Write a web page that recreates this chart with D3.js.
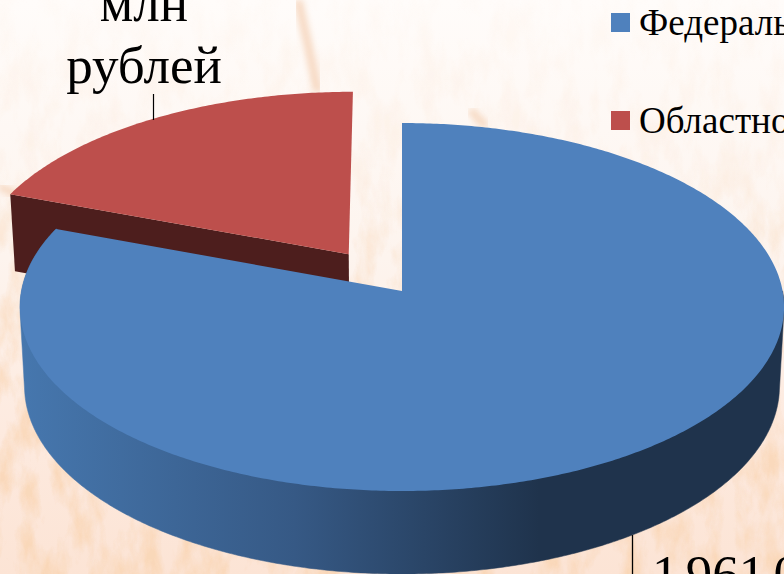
<!DOCTYPE html>
<html lang="ru"><head><meta charset="utf-8">
<style>html,body{margin:0;padding:0;background:#fff}svg{display:block}</style>
<script src="https://cdn.jsdelivr.net/npm/d3@7/dist/d3.min.js"></script>
</head><body><svg id="c" width="784" height="574"></svg>
<script>
// Data
const categories = ["Федеральный бюджет", "Областной бюджет"];
const values = [1961.0, 469.0];
const topColors = ["#4f81bd", "#bd4f4c"];
const labelLines = [["млн", "рублей"], ["1 961,0"]];

const W = 784, H = 574;
const svg = d3.select("#c").attr("viewBox", [0, 0, W, H]);
const defs = svg.append("defs");

// Background: pale wheat-coloured paper
const bg = defs.append("linearGradient").attr("id", "bg").attr("x1", 0).attr("y1", 0).attr("x2", 0).attr("y2", 1);
[[0, "#fffcfa"], [0.45, "#fdf4ee"], [0.75, "#fdeadf"], [1, "#fce4d5"]].forEach(([o, c]) => bg.append("stop").attr("offset", o).attr("stop-color", c));
svg.append("rect").attr("width", W).attr("height", H).attr("fill", "url(#bg)");
const tex = defs.append("filter").attr("id", "tex").attr("x", 0).attr("y", 0).attr("width", 1).attr("height", 1);
tex.append("feTurbulence").attr("type", "fractalNoise").attr("baseFrequency", "0.05 0.02").attr("numOctaves", 5).attr("seed", 11);
tex.append("feColorMatrix").attr("values", "0 0 0 0 0.95  0 0 0 0 0.68  0 0 0 0 0.48  2.6 0 0 0 -1.05");
const fade = defs.append("linearGradient").attr("id", "fade").attr("x1", 0).attr("y1", 0).attr("x2", 0).attr("y2", 1);
[[0, 0.05], [0.3, 0.2], [0.6, 0.8], [1, 1]].forEach(([o, a]) => fade.append("stop").attr("offset", o).attr("stop-color", "#fff").attr("stop-opacity", a));
defs.append("mask").attr("id", "fm").append("rect").attr("width", W).attr("height", H).attr("fill", "url(#fade)");
svg.append("g").attr("mask", "url(#fm)").append("rect").attr("width", W).attr("height", H).attr("filter", "url(#tex)");
// Faint wheat stalks behind the top of the chart
const soft = defs.append("filter").attr("id", "soft"); soft.append("feGaussianBlur").attr("stdDeviation", 3);
[["M298,0 L308,45 L318,92", 9], ["M0,186 L18,196", 7], ["M470,110 L486,126", 7]].forEach(([p, w]) =>
  svg.append("path").attr("d", p).attr("fill", "none").attr("stroke", "#f3c9a9").attr("stroke-width", w).attr("opacity", .65).attr("filter", "url(#soft)"));

// Perspective projection of the pie plane onto the page
const cx = 402, cy = 291, A = 380.6, B = 182.6, k = 0.087;
const explode = 0.25;          // pull-out of the second slice, in radii
const floorDrop = 79, floorX = 0.988, floorY = 1.02;

function project(u, t) {
  const w = 1 + k * t;
  return [cx + A * u / w, cy - B * t / w];
}
function lower([x, y]) {
  return [cx + (x - cx) * floorX, cy + floorDrop + (y - cy) * floorY];
}
const pie = d3.pie().sort(null).startAngle(0).endAngle(2 * Math.PI);
const arcs = pie(values);

function rim(d, off, a0 = d.startAngle, a1 = d.endAngle) {
  const n = Math.max(2, Math.ceil((a1 - a0) / 0.01));
  return d3.range(n + 1).map(i => {
    const a = a0 + (a1 - a0) * i / n;
    return project(off[0] + Math.sin(a), off[1] + Math.cos(a));
  });
}
const mid = d => (d.startAngle + d.endAngle) / 2;
const line = d3.line().curve(d3.curveLinearClosed);

// Side wall shade
const wall = defs.append("linearGradient").attr("id", "wall").attr("gradientUnits", "userSpaceOnUse")
  .attr("x1", 20).attr("x2", 784).attr("y1", 0).attr("y2", 0);
[[0, "#4677ae"], [0.36, "#365985"], [0.68, "#1f334c"], [1, "#1f334c"]].forEach(([o, c]) => wall.append("stop").attr("offset", o).attr("stop-color", c));

const [fed, obl] = arcs;
const oblOff = [explode * Math.sin(mid(obl)), explode * Math.cos(mid(obl))];

// Second slice: cut face, then top
const oblApex = project(oblOff[0], oblOff[1]);
const oblRim = rim(obl, oblOff);
svg.append("path").attr("fill", "#4d1e1d")
  .attr("d", line([oblRim[0], oblApex, lower(oblApex), lower(oblRim[0])]));
svg.append("path").attr("fill", topColors[1]).attr("d", line([oblApex, ...oblRim]));

// First slice: wall (each half as a hull so the silhouette is tangent), then top
const fedApex = project(0, 0);
[[Math.PI / 2, Math.PI], [Math.PI, fed.endAngle]].forEach(([a0, a1]) => {
  const r = rim(fed, [0, 0], a0, a1);
  svg.append("path").attr("fill", "url(#wall)").attr("stroke", "url(#wall)").attr("stroke-width", .5)
    .attr("d", line(d3.polygonHull([...r, ...r.map(lower)])));
});
svg.append("path").attr("fill", topColors[0]).attr("d", line([fedApex, ...rim(fed, [0, 0])]));

// Leader lines
svg.append("line").attr("x1", 153.5).attr("x2", 153.5).attr("y1", 94).attr("y2", 120).attr("stroke", "#000").attr("stroke-width", 1.2);
svg.append("line").attr("x1", 632.5).attr("x2", 632.5).attr("y1", 535).attr("y2", 574).attr("stroke", "#000").attr("stroke-width", 1.3);

// Data labels
const serif = "'Liberation Serif','Times New Roman',serif";
svg.append("g").attr("font-family", serif).attr("font-size", 53).attr("fill", "#000").attr("text-anchor", "middle")
  .selectAll("text").data(labelLines[0]).join("text").attr("x", 144).attr("y", (d, i) => 21 + i * 62).text(d => d);
svg.append("text").attr("font-family", serif).attr("font-size", 53).attr("fill", "#000").attr("x", 652).attr("y", 592)
  .attr("dx", "0 0 -6 0 0 0 -5").text(labelLines[1][0]);

// Legend
const legY = d3.scalePoint().domain(categories).range([13, 111]);
const leg = svg.append("g").attr("font-family", serif).attr("font-size", 37).attr("fill", "#000");
const item = leg.selectAll("g").data(categories).join("g").attr("transform", d => `translate(611,${legY(d)})`);
item.append("rect").attr("width", 19).attr("height", 19).attr("fill", (d, i) => topColors[i]);
item.append("text").attr("x", 28).attr("y", 22).text(d => d);
</script></body></html>
